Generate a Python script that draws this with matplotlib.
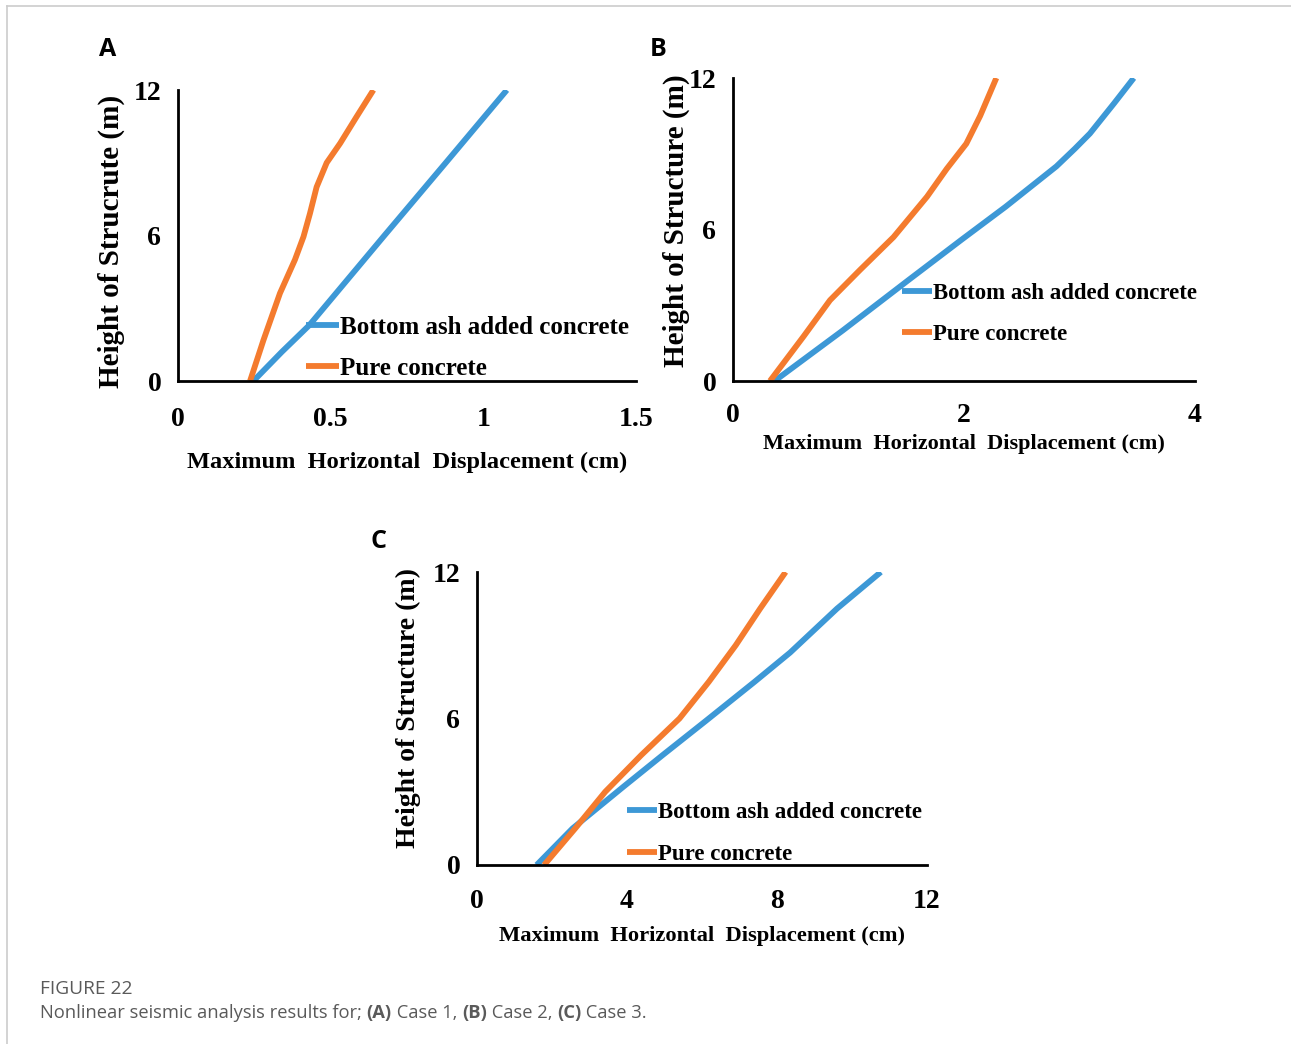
import matplotlib.pyplot as plt
from matplotlib.lines import Line2D

# data (height in m, displacement in cm)
h_ash_a = [0, 1.2, 2.3, 6, 9, 12]
ash_a = [0.247, 0.34, 0.43, 0.676, 0.877, 1.077]
h_pure_a = [0, 1.69, 3.62, 5.0, 5.95, 6.9, 8.0, 9.0, 9.8, 10.9, 12]
pure_a = [0.236, 0.28, 0.334, 0.383, 0.411, 0.432, 0.454, 0.487, 0.531, 0.585, 0.640]

h_ash_b = [0, 2.0, 4.0, 5.6, 6.9, 8.5, 9.2, 9.8, 11, 12]
ash_b = [0.36, 0.95, 1.52, 1.98, 2.36, 2.80, 2.96, 3.09, 3.30, 3.47]
h_pure_b = [0, 1.76, 3.2, 4.4, 5.7, 7.3, 8.4, 9.4, 10.5, 12]
pure_b = [0.32, 0.61, 0.84, 1.10, 1.39, 1.68, 1.85, 2.02, 2.14, 2.28]

h_ash_c = [0, 1.5, 3.2, 4.5, 5.9, 7.5, 8.7, 10.5, 12]
ash_c = [1.59, 2.55, 3.90, 4.95, 6.10, 7.40, 8.35, 9.60, 10.77]
h_pure_c = [0, 1.5, 3, 4.5, 6, 7.5, 9, 10.5, 12]
pure_c = [1.79, 2.62, 3.42, 4.38, 5.40, 6.18, 6.90, 7.55, 8.23]

x_ticks_a = [0, 0.5, 1, 1.5]
x_labels_a = ["0", "0.5", "1", "1.5"]
x_ticks_b = [0, 2, 4]
x_ticks_c = [0, 4, 8, 12]
y_ticks = [0, 6, 12]

BLUE = "#3d98d6"
ORANGE = "#f47b2e"
SERIF = "Liberation Serif"

fig = plt.figure(figsize=(12.91, 10.44), dpi=100)

# page frame
fig.add_artist(Line2D([7 / 1291, 7 / 1291], [0, 1 - 6 / 1044], color="#cccccc", lw=1.2))
fig.add_artist(Line2D([7 / 1291, 1], [1 - 6 / 1044, 1 - 6 / 1044], color="#cccccc", lw=1.2))


def panel(rect, ash_x, ash_h, pure_x, pure_h, xlim, xticks, xlabels, ylabel,
          leg_anchor, fs_label, fs_leg, leg_space, tick_pad, xpad, ylab_pos, fs_ylab):
    ax = fig.add_axes(rect)
    ax.plot(ash_x, ash_h, color=BLUE, lw=4.2, solid_joinstyle="round",
            solid_capstyle="butt", label="Bottom ash added concrete")
    ax.plot(pure_x, pure_h, color=ORANGE, lw=4.2, solid_joinstyle="round",
            solid_capstyle="butt", label="Pure concrete")
    ax.set_xlim(*xlim)
    ax.set_ylim(0, 12)
    ax.set_xticks(xticks)
    ax.set_xticklabels(xlabels)
    ax.set_yticks(y_ticks)
    for s in ["top", "right"]:
        ax.spines[s].set_visible(False)
    for s in ["left", "bottom"]:
        ax.spines[s].set_linewidth(2)
        ax.spines[s].set_color("black")
    ax.tick_params(axis="x", length=0, pad=tick_pad)
    ax.tick_params(axis="y", length=0, pad=12)
    for lab in ax.get_xticklabels() + ax.get_yticklabels():
        lab.set_fontfamily(SERIF)
        lab.set_fontweight("bold")
        lab.set_fontsize(20)
    ax.set_xlabel("Maximum  Horizontal  Displacement (cm)", fontfamily=SERIF,
                  fontweight="bold", fontsize=fs_label, labelpad=xpad)
    ax.set_ylabel(ylabel, fontfamily=SERIF, fontweight="bold", fontsize=fs_ylab)
    ax.yaxis.set_label_coords(*ylab_pos)
    ax.legend(loc="lower left", bbox_to_anchor=leg_anchor, frameon=False,
              handlelength=1.3, handletextpad=0.05, labelspacing=leg_space, borderpad=0,
              borderaxespad=0, prop={"family": SERIF, "weight": "bold", "size": fs_leg})
    return ax


ax_a = panel([178 / 1291, 1 - 381 / 1044, 458 / 1291, 291 / 1044],
             ash_a, h_ash_a, pure_a, h_pure_a, (0, 1.5), x_ticks_a, x_labels_a,
             "Height of Strucrute (m)", (0.28, 0.004), 17.6, 18, 0.73, 19, 14,
             (-0.116, 0.48), 21)
ax_b = panel([733 / 1291, 1 - 381 / 1044, 462 / 1291, 303 / 1044],
             ash_b, h_ash_b, pure_b, h_pure_b, (0, 4), x_ticks_b,
             [str(t) for t in x_ticks_b], "Height of Structure (m)", (0.366, 0.12),
             16, 16.5, 0.86, 16, 4, (-0.092, 0.53), 21)
ax_c = panel([477 / 1291, 1 - 865 / 1044, 450 / 1291, 293 / 1044],
             ash_c, h_ash_c, pure_c, h_pure_c, (0, 12), x_ticks_c,
             [str(t) for t in x_ticks_c], "Height of Structure (m)", (0.334, 0.0),
             16.2, 16.5, 0.9, 17, 9, (-0.124, 0.535), 20)

for letter, x, y in [("A", 108, 49), ("B", 658, 49), ("C", 378, 542)]:
    fig.text(x / 1291, 1 - y / 1044, letter, fontfamily="Open Sans", fontweight="bold",
             fontsize=18, ha="center", va="center")

# caption
fig.text(40 / 1291, 1 - 989 / 1044, "FIGURE 22", fontfamily="Open Sans", fontsize=13.8,
         color="#5a5a5a", va="center")

pieces = [("Nonlinear seismic analysis results for; ", "normal"), ("(A)", "bold"),
          (" Case 1, ", "normal"), ("(B)", "bold"), (" Case 2, ", "normal"),
          ("(C)", "bold"), (" Case 3.", "normal")]
renderer = fig.canvas.get_renderer()
x_px = 40
for txt, wt in pieces:
    t = fig.text(x_px / 1291, 1 - 1013 / 1044, txt, fontfamily="Open Sans", fontsize=13.2,
                 fontweight=wt, color="#5a5a5a", va="center")
    bb = t.get_window_extent(renderer)
    x_px += bb.width

fig.savefig("out.png", dpi=100)
